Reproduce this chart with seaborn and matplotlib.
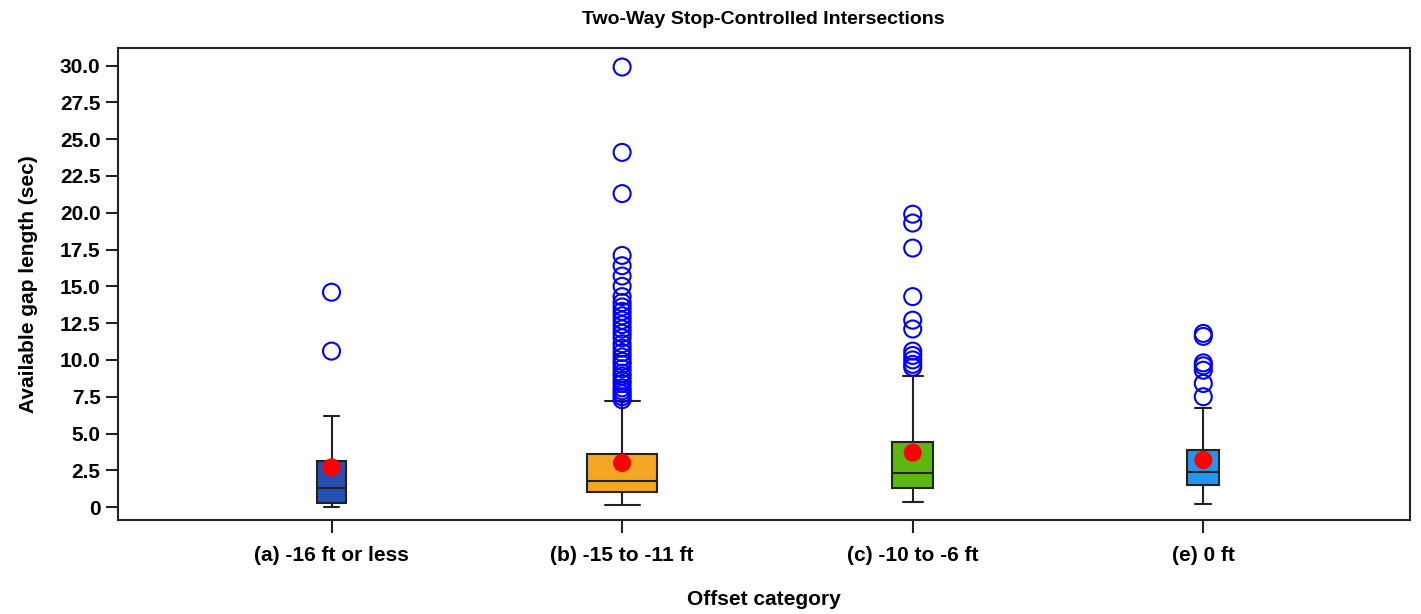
import numpy as np
import pandas as pd
import matplotlib
matplotlib.use("Agg")
import matplotlib.pyplot as plt
import seaborn as sns

# values
categories = ["(a) -16 ft or less", "(b) -15 to -11 ft", "(c) -10 to -6 ft", "(e) 0 ft"]
whisker_low = [0.0, 0.15, 0.35, 0.2]
q1 = [0.3, 1.0, 1.3, 1.5]
median = [1.3, 1.8, 2.3, 2.4]
q3 = [3.15, 3.6, 4.4, 3.9]
whisker_high = [6.2, 7.2, 8.9, 6.7]
means = [2.7, 3.0, 3.7, 3.2]
box_widths = [0.1, 0.24, 0.14, 0.11]
box_colors = ["#2550B5", "#F5A623", "#5CB811", "#2196F3"]

outliers_a = [14.6, 10.6]
outliers_b = [29.9, 24.1, 21.3, 17.1, 16.4, 15.7, 15.0, 14.3, 13.9, 13.6, 13.3, 13.0,
              12.7, 12.4, 12.1, 11.8, 11.5, 11.1, 10.8, 10.5, 10.2, 9.9, 9.7, 9.4,
              9.1, 8.9, 8.6, 8.4, 8.1, 7.9, 7.7, 7.5, 7.3]
outliers_c = [19.9, 19.3, 17.6, 14.3, 12.7, 12.1, 10.6, 10.3, 10.0, 9.7, 9.5]
outliers_e = [11.8, 11.6, 9.8, 9.6, 9.3, 8.4, 7.5]
outliers = [outliers_a, outliers_b, outliers_c, outliers_e]

sns.set_theme(style="ticks")
plt.rcParams['font.family'] = ['Liberation Sans', 'DejaVu Sans']
plt.rcParams['font.weight'] = 'bold'
plt.rcParams['text.color'] = 'black'
plt.rcParams['axes.labelcolor'] = 'black'
plt.rcParams['xtick.color'] = 'black'
plt.rcParams['ytick.color'] = 'black'

fig = plt.figure(figsize=(14.21, 6.14), dpi=100)
ax = fig.add_axes([0.083, 0.153, 0.909, 0.769])

positions = list(range(len(categories)))
stats = []
for i in positions:
    stats.append({'whislo': whisker_low[i], 'q1': q1[i], 'med': median[i],
                  'q3': q3[i], 'whishi': whisker_high[i], 'fliers': []})

bp = ax.bxp(stats, positions=positions, widths=box_widths, patch_artist=True,
            showfliers=False,
            boxprops=dict(edgecolor='#222222', linewidth=1.5),
            medianprops=dict(color='#222222', linewidth=1.5),
            whiskerprops=dict(color='#222222', linewidth=1.5),
            capprops=dict(color='#222222', linewidth=1.5))
for patch, c in zip(bp['boxes'], box_colors):
    patch.set_facecolor(c)

out_df = pd.DataFrame({
    'pos': [p for p, vals in zip(positions, outliers) for _ in vals],
    'gap': [v for vals in outliers for v in vals],
})
sns.scatterplot(data=out_df, x='pos', y='gap', ax=ax, marker='o', s=150,
                facecolors='none', edgecolor='#0000FF', linewidth=1.5, zorder=3)

mean_df = pd.DataFrame({'pos': positions, 'mean': means})
sns.scatterplot(data=mean_df, x='pos', y='mean', ax=ax, marker='o', s=170,
                color='#FF0000', edgecolor='none', zorder=4)

ax.set_xlim(-0.735, 3.71)
ax.set_ylim(-0.88, 31.2)
ax.set_xticks(positions)
ax.set_xticklabels(categories, fontsize=15, fontweight='bold')
yt = np.arange(0, 30.1, 2.5)
ax.set_yticks(yt)
ax.set_yticklabels(['0'] + [f"{v:.1f}" for v in yt[1:]], fontsize=15, fontweight='bold')
ax.tick_params(axis='both', direction='out', length=9, width=1.5, color='#222222')
ax.tick_params(axis='x', pad=10)
for s in ax.spines.values():
    s.set_linewidth(1.5)
    s.set_color('#222222')

ax.set_xlabel("Offset category", fontsize=15, fontweight='bold', labelpad=18)
ax.set_ylabel("Available gap length (sec)", fontsize=15, fontweight='bold', labelpad=16)
ax.set_title("Two-Way Stop-Controlled Intersections", fontsize=14, fontweight='bold', pad=17)

fig.savefig("out.png", dpi=100)
